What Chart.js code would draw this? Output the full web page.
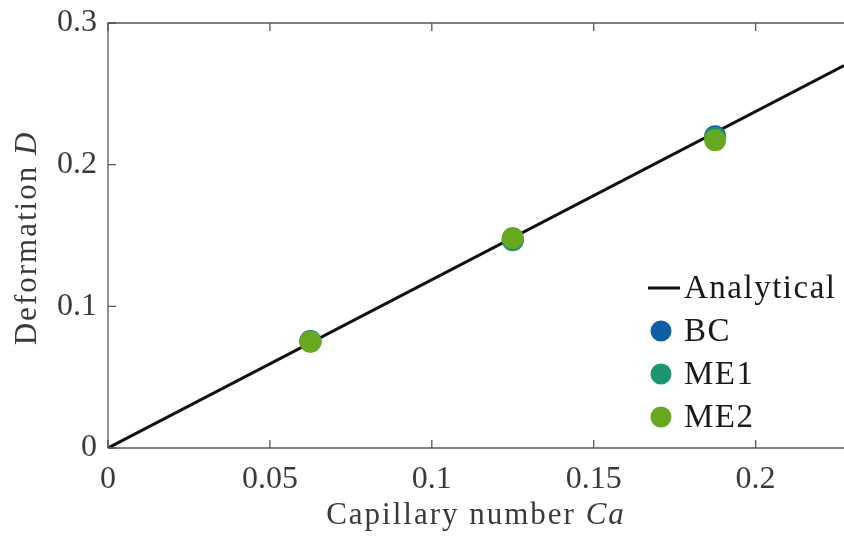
<!DOCTYPE html>
<html>
<head>
<meta charset="utf-8">
<script src="https://cdn.jsdelivr.net/npm/chart.js@4/dist/chart.umd.min.js"></script>
<style>
  html, body { margin: 0; padding: 0; background: #fff; }
  #wrap { width: 844px; height: 540px; }
</style>
</head>
<body>
<div id="wrap"><canvas id="myChart" width="844" height="540"></canvas></div>
<script>
// capillary numbers of the simulations
const ca = [0.0625, 0.125, 0.1875];
// deformation
const bc  = [0.0755, 0.1470, 0.2200];
const me1 = [0.0752, 0.1466, 0.2190];
const me2 = [0.0750, 0.1482, 0.2172];
// analytical line D = 19/16 Ca, drawn between its two ends
const analyticCa = [0, 0.2273];
const analyticD  = [0, 0.2699];

const xTicks = [0, 0.05, 0.1, 0.15, 0.2];
const yTicks = [0, 0.1, 0.2, 0.3];

const fontFam = '"Liberation Serif", "DejaVu Serif", serif';
const txtColor = '#3a3a3a';
const axisColor = '#555555';

function pts(xs, ys) {
    let out = [];
    for (let i = 0; i < xs.length; i++) out.push({x: xs[i], y: ys[i]});
    return out;
}

// draws axis frame, inward tick marks, titles and the legend
const decor = {
    id: 'decor',
    afterDraw(chart) {
        const c = chart.ctx;
        const a = chart.chartArea;
        const sx = chart.scales.x, sy = chart.scales.y;
        c.save();
        c.strokeStyle = axisColor;
        c.lineWidth = 1.3;
        c.beginPath();
        c.moveTo(a.left, a.bottom); c.lineTo(a.left, a.top); c.lineTo(844, a.top);
        c.moveTo(a.left, a.bottom); c.lineTo(844, a.bottom);
        c.stroke();
        c.beginPath();
        xTicks.forEach(v => {
            const p = sx.getPixelForValue(v);
            c.moveTo(p, a.bottom); c.lineTo(p, a.bottom - 8);
            c.moveTo(p, a.top); c.lineTo(p, a.top + 8);
        });
        yTicks.forEach(v => {
            const p = sy.getPixelForValue(v);
            c.moveTo(a.left, p); c.lineTo(a.left + 8, p);
        });
        c.stroke();

        // titles
        c.fillStyle = txtColor;
        c.textBaseline = 'middle';
        c.letterSpacing = '2px';
        let f1 = '31px ' + fontFam, f2 = 'italic 31px ' + fontFam;
        c.font = f1; let w1 = c.measureText('Capillary number ').width;
        c.font = f2; let w2 = c.measureText('Ca').width;
        let x0 = 476 - (w1 + w2) / 2;
        c.textAlign = 'left';
        c.font = f1; c.fillText('Capillary number ', x0, 516);
        c.font = f2; c.fillText('Ca', x0 + w1, 516);

        c.save();
        c.translate(28, 238);
        c.rotate(-Math.PI / 2);
        c.font = f1; w1 = c.measureText('Deformation ').width;
        c.font = f2; w2 = c.measureText('D').width;
        x0 = -(w1 + w2) / 2;
        c.font = f1; c.fillText('Deformation ', x0, 0);
        c.font = f2; c.fillText('D', x0 + w1, 0);
        c.restore();

        // legend
        const items = chart.data.datasets;
        let ly = 288;
        c.letterSpacing = '1.5px';
        c.font = '33px ' + fontFam;
        items.forEach(ds => {
            if (ds.showLine) {
                c.strokeStyle = ds.borderColor;
                c.lineWidth = 3;
                c.beginPath(); c.moveTo(648, ly); c.lineTo(680, ly); c.stroke();
            } else {
                c.fillStyle = ds.backgroundColor;
                c.beginPath(); c.arc(661, ly, 10.5, 0, Math.PI * 2); c.fill();
            }
            c.fillStyle = '#1a1a1a';
            c.fillText(ds.label, 684, ly + 1);
            ly += 43;
        });
        c.restore();
    }
};

const ctx = document.getElementById('myChart');
const myChart = new Chart(ctx, {
    type: 'scatter',
    data: {
        datasets: [{
            label: 'Analytical',
            data: pts(analyticCa, analyticD),
            showLine: true,
            borderColor: '#111111',
            borderWidth: 3,
            pointRadius: 0,
            order: 4
        }, {
            label: 'BC',
            data: pts(ca, bc),
            backgroundColor: '#0e5fa6',
            borderWidth: 0,
            pointRadius: 11,
            order: 3
        }, {
            label: 'ME1',
            data: pts(ca, me1),
            backgroundColor: '#1a9471',
            borderWidth: 0,
            pointRadius: 11,
            order: 2
        }, {
            label: 'ME2',
            data: pts(ca, me2),
            backgroundColor: '#68a820',
            borderWidth: 0,
            pointRadius: 11,
            order: 1
        }]
    },
    options: {
        responsive: false,
        animation: false,
        layout: { autoPadding: false, padding: { top: 23, right: 0, left: 0, bottom: 0 } },
        plugins: { legend: { display: false }, tooltip: { enabled: false } },
        scales: {
            x: {
                type: 'linear',
                min: 0, max: 0.2273,
                afterFit: s => { s.height = 92; s.paddingLeft = 0; s.paddingRight = 0; },
                grid: { display: false, drawTicks: false },
                border: { display: false },
                ticks: {
                    includeBounds: false,
                    stepSize: 0.05,
                    padding: 12,
                    maxRotation: 0,
                    color: txtColor,
                    font: { family: fontFam, size: 32 },
                    callback: v => String(parseFloat(v.toFixed(3)))
                }
            },
            y: {
                type: 'linear',
                min: 0, max: 0.3,
                afterFit: s => { s.width = 108; s.paddingTop = 0; s.paddingBottom = 0; },
                grid: { display: false, drawTicks: false },
                border: { display: false },
                ticks: {
                    stepSize: 0.1,
                    padding: 11,
                    color: txtColor,
                    font: { family: fontFam, size: 32 },
                    callback: v => String(parseFloat(v.toFixed(3)))
                }
            }
        }
    },
    plugins: [decor]
});
</script>
</body>
</html>
